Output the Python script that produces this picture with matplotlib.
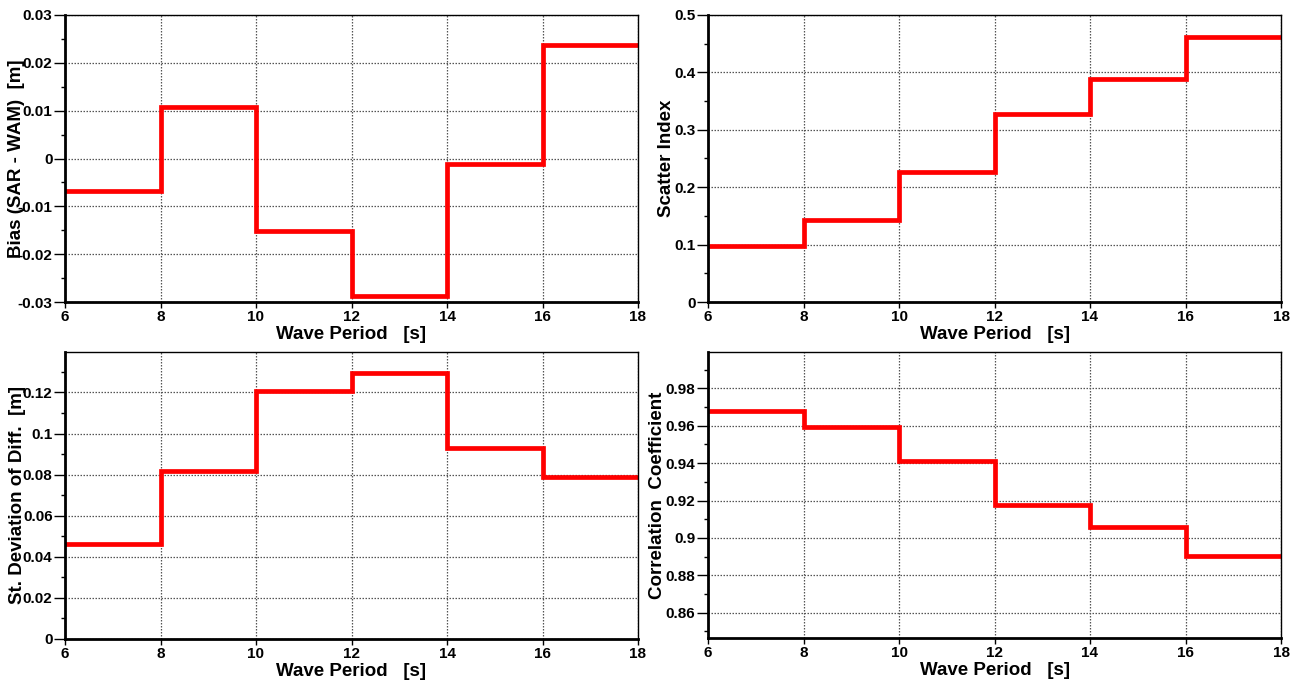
import matplotlib.pyplot as plt
from matplotlib.ticker import MultipleLocator, FuncFormatter

# -----------------------------
# Data
# -----------------------------
period_edges = [6, 8, 10, 12, 14, 16, 18]

bias = [-0.0068, 0.0108, -0.0151, -0.0287, -0.0011, 0.0237]
scatter_index = [0.097, 0.143, 0.226, 0.327, 0.389, 0.461]
std_diff = [0.046, 0.082, 0.1205, 0.1294, 0.0932, 0.0788]
corr_coef = [0.9677, 0.9595, 0.941, 0.9176, 0.9061, 0.8904]

plt.rcParams['font.family'] = ['Liberation Sans', 'DejaVu Sans']
plt.rcParams['font.weight'] = 'bold'
plt.rcParams['axes.unicode_minus'] = False

fig = plt.figure(figsize=(13.03, 6.84), dpi=100)

W, H = 1303, 684


def make_axes(x0, y0, x1, y1):
    return fig.add_axes([x0 / W, 1 - y1 / H, (x1 - x0) / W, (y1 - y0) / H])


short_fmt = FuncFormatter(lambda v, pos: '%g' % round(v, 6))

# axes, values, y-limits, major step, minor step, y-label, label x (axes coords)
panels = [
    (make_axes(65, 15, 638, 302), bias, (-0.03, 0.03), 0.01, 0.005,
     'Bias (SAR - WAM)  [m]', -0.069),
    (make_axes(708, 15, 1281, 302), scatter_index, (0, 0.5), 0.1, 0.05,
     'Scatter Index', -0.057),
    (make_axes(65, 352, 638, 639), std_diff, (0, 0.1397), 0.02, 0.01,
     'St. Deviation of Diff.  [m]', -0.068),
    (make_axes(708, 352, 1281, 638), corr_coef, (0.8465, 0.9994), 0.02, 0.01,
     'Correlation  Coefficient', -0.074),
]

for ax, vals, ylim, major, minor, ylabel, lab_x in panels:
    ax.stairs(vals, period_edges, color='#ff0000', linewidth=3.4, baseline=None)
    ax.set_xlim(6, 18)
    ax.set_ylim(*ylim)
    ax.xaxis.set_major_locator(MultipleLocator(2))
    ax.yaxis.set_major_locator(MultipleLocator(major))
    ax.yaxis.set_minor_locator(MultipleLocator(minor))
    ax.yaxis.set_major_formatter(short_fmt)
    ax.grid(True, which='major', linestyle=(0, (1.2, 1.2)), color='#555555',
            linewidth=0.9)
    ax.set_axisbelow(True)

    ax.spines['left'].set_linewidth(2)
    ax.spines['bottom'].set_linewidth(2)
    ax.spines['top'].set_linewidth(1)
    ax.spines['right'].set_linewidth(1)

    ax.tick_params(axis='y', which='major', direction='out', length=8,
                   width=1, labelsize=11, pad=1)
    ax.tick_params(axis='y', which='minor', direction='out', length=3,
                   width=1)
    ax.tick_params(axis='x', which='major', direction='out', length=4,
                   width=1, labelsize=11, pad=2)

    for lab in ax.get_xticklabels() + ax.get_yticklabels():
        lab.set_fontweight('bold')

    ax.set_xlabel('Wave Period   [s]', fontsize=13.5, fontweight='bold',
                  labelpad=1)
    ax.set_ylabel(ylabel, fontsize=13.5, fontweight='bold')
    ax.yaxis.set_label_coords(lab_x, 0.5)

plt.savefig('out.png', dpi=100)
